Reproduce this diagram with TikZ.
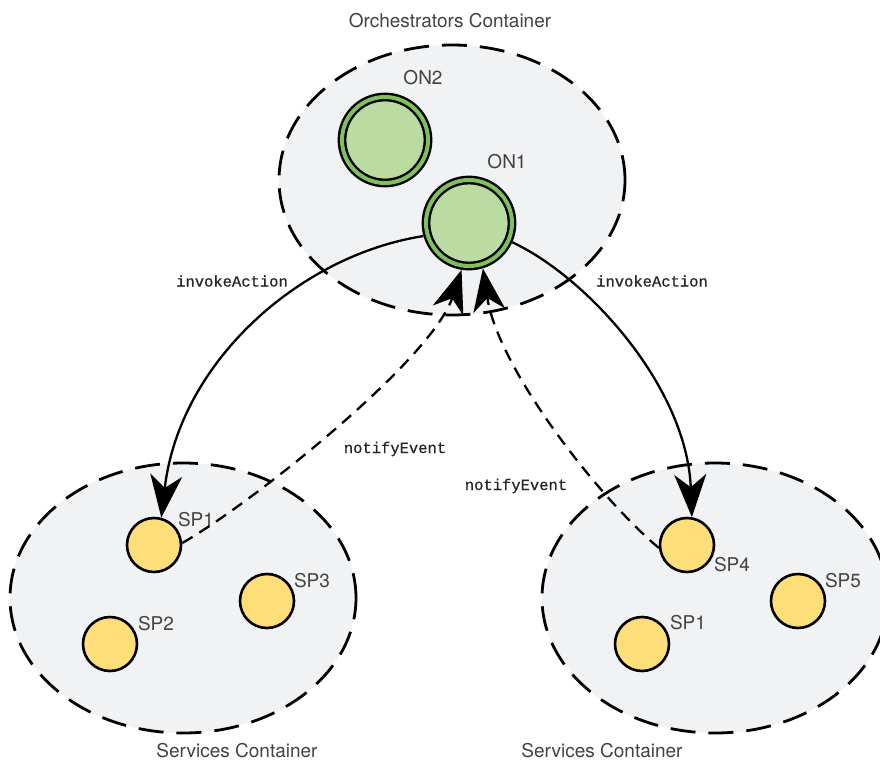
\documentclass[tikz,border=0pt]{standalone}
\usepackage{fontspec}
\setmainfont{TeX Gyre Heros}
\newfontfamily\codefont[FakeBold=0.8]{Liberation Mono}
\usetikzlibrary{shapes.geometric,arrows.meta}

\definecolor{containerfill}{RGB}{241,242,244}
\definecolor{ringgreen}{RGB}{128,192,92}
\definecolor{orchfill}{RGB}{186,220,160}
\definecolor{servfill}{RGB}{254,222,120}
\definecolor{labelgray}{RGB}{66,66,66}

\tikzset{
  container/.style={ellipse, inner sep=0pt, fill=containerfill, draw=black,
    line width=2.8pt, dash pattern=on 25pt off 13pt,
    minimum width=346pt, minimum height=270pt},
  orchnode/.style={circle, inner sep=0pt, minimum size=86pt, fill=orchfill,
    draw=black, line width=2.4pt, double=ringgreen, double distance=4pt,
    outer sep=4.5pt},
  servnode/.style={circle, inner sep=0pt, minimum size=54pt, fill=servfill,
    draw=black, line width=2.6pt},
  tag/.style={inner sep=0pt, text=labelgray,
    font=\fontsize{19}{21}\selectfont},
  msg/.style={inner sep=0pt, text=black!85,
    font=\codefont\fontsize{15.5}{17}\selectfont},
  invoke/.style={-{Stealth[scale=3.2,inset=4pt]}, line width=2.3pt},
  notify/.style={-{Stealth[scale=3.2,inset=4pt]}, line width=2.3pt,
    dash pattern=on 12pt off 8pt},
}

\begin{document}
\begin{tikzpicture}[x=1pt,y=-1pt]
\useasboundingbox (0,0) rectangle (880,762);

% containers
\node[container] (orch) at (452,180) {};
\node[container] (servL) at (183,598) {};
\node[container] (servR) at (715,598) {};

\node[tag] (orchtitle) at (450,21) {Orchestrators Container};
\node[tag] (servLtitle) at (237,751) {Services Container};
\node[tag] (servRtitle) at (602,751) {Services Container};

% orchestrator nodes
\node[orchnode] (on2) at (385,140) {};
\node[orchnode] (on1) at (469,223) {};
\node[tag] (on2lbl) at (423,78) {ON2};
\node[tag] (on1lbl) at (507,162) {ON1};

% service providers, left container
\node[servnode] (spa1) at (154,545) {};
\node[servnode] (spa2) at (110,644) {};
\node[servnode] (spa3) at (267,601) {};
\node[tag] (spa1lbl) at (196,520) {SP1};
\node[tag] (spa2lbl) at (156,624) {SP2};
\node[tag] (spa3lbl) at (312,581) {SP3};

% service providers, right container
\node[servnode] (spb4) at (687,545) {};
\node[servnode] (spb5) at (798,601) {};
\node[servnode] (spb1) at (642,644) {};
\node[tag] (spb4lbl) at (732,565) {SP4};
\node[tag] (spb5lbl) at (843,581) {SP5};
\node[tag] (spb1lbl) at (688,623) {SP1};

% invocations
\draw[invoke] (on1.196) .. controls +(-123,19) and +(18,-156) .. (spa1.75);
\draw[invoke] (on1.336) .. controls +(75,35) and +(-5,-130) .. (spb4.80);

% event notifications
\draw[notify] (spa1.4) .. controls +(70,-40) and +(-30,90) .. (on1.261);
\draw[notify] (spb4.186) .. controls +(-60,-50) and +(15,100) .. (on1.287);

% message labels
\node[msg] (invL) at (232,281) {invokeAction};
\node[msg] (invR) at (652,281) {invokeAction};
\node[msg] (notL) at (395,449) {notifyEvent};
\node[msg] (notR) at (516,486) {notifyEvent};
\end{tikzpicture}
\end{document}
